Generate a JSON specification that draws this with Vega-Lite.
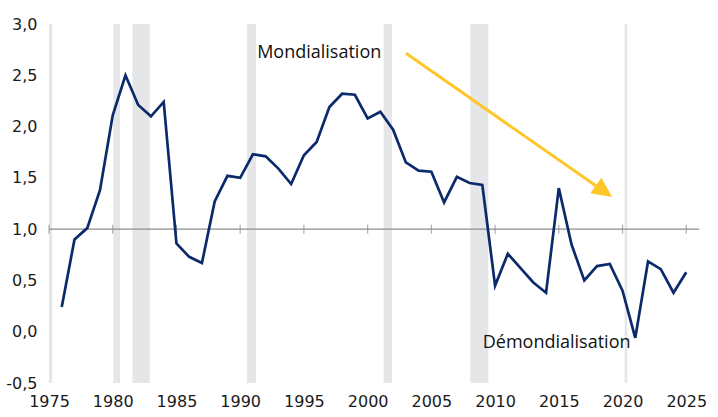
{
  "$schema": "https://vega.github.io/schema/vega-lite/v6.json",
  "width": 650,
  "height": 359,
  "autosize": "none",
  "padding": {"left": 49, "top": 24, "right": 19, "bottom": 34},
  "background": "white",
  "config": {"view": {"stroke": null}, "font": "DejaVu Sans"},
  "datasets": {
    "bands": [
      {"start": 1975.0, "end": 1975.25},
      {"start": 1980.05, "end": 1980.57},
      {"start": 1981.55, "end": 1982.9},
      {"start": 1990.54, "end": 1991.24},
      {"start": 2001.26, "end": 2001.91},
      {"start": 2008.06, "end": 2009.47},
      {"start": 2020.17, "end": 2020.37}
    ],
    "ticks": [
      {"year": 1975, "value": 1}, {"year": 1980, "value": 1}, {"year": 1985, "value": 1},
      {"year": 1990, "value": 1}, {"year": 1995, "value": 1}, {"year": 2000, "value": 1},
      {"year": 2005, "value": 1}, {"year": 2010, "value": 1}, {"year": 2015, "value": 1},
      {"year": 2020, "value": 1}, {"year": 2025, "value": 1}
    ],
    "series": [
      {"year": 1976, "value": 0.24}, {"year": 1977, "value": 0.90}, {"year": 1978, "value": 1.01},
      {"year": 1979, "value": 1.38}, {"year": 1980, "value": 2.11}, {"year": 1981, "value": 2.50},
      {"year": 1982, "value": 2.21}, {"year": 1983, "value": 2.10}, {"year": 1984, "value": 2.24},
      {"year": 1985, "value": 0.86}, {"year": 1986, "value": 0.73}, {"year": 1987, "value": 0.67},
      {"year": 1988, "value": 1.27}, {"year": 1989, "value": 1.52}, {"year": 1990, "value": 1.50},
      {"year": 1991, "value": 1.73}, {"year": 1992, "value": 1.71}, {"year": 1993, "value": 1.59},
      {"year": 1994, "value": 1.44}, {"year": 1995, "value": 1.72}, {"year": 1996, "value": 1.85},
      {"year": 1997, "value": 2.19}, {"year": 1998, "value": 2.32}, {"year": 1999, "value": 2.31},
      {"year": 2000, "value": 2.08}, {"year": 2001, "value": 2.145}, {"year": 2002, "value": 1.97},
      {"year": 2003, "value": 1.65}, {"year": 2004, "value": 1.57}, {"year": 2005, "value": 1.56},
      {"year": 2006, "value": 1.26}, {"year": 2007, "value": 1.51}, {"year": 2008, "value": 1.45},
      {"year": 2009, "value": 1.43}, {"year": 2010, "value": 0.45}, {"year": 2011, "value": 0.76},
      {"year": 2012, "value": 0.62}, {"year": 2013, "value": 0.48}, {"year": 2014, "value": 0.38},
      {"year": 2015, "value": 1.40}, {"year": 2016, "value": 0.85}, {"year": 2017, "value": 0.50},
      {"year": 2018, "value": 0.64}, {"year": 2019, "value": 0.66}, {"year": 2020, "value": 0.40},
      {"year": 2021, "value": -0.06}, {"year": 2022, "value": 0.685}, {"year": 2023, "value": 0.61},
      {"year": 2024, "value": 0.38}, {"year": 2025, "value": 0.58}
    ],
    "arrow": [
      {"year": 2003.01, "value": 2.714},
      {"year": 2018.5, "value": 1.372}
    ],
    "head": [
      {"year": 2018.55, "value": 1.37}
    ],
    "labels": [
      {"year": 1996.2, "value": 2.717, "label": "Mondialisation"},
      {"year": 2014.83, "value": -0.113, "label": "Démondialisation"}
    ]
  },
  "layer": [
    {
      "data": {"name": "bands"},
      "mark": {"type": "rect", "color": "#e5e6e8"},
      "encoding": {
        "x": {"field": "start", "type": "quantitative",
              "scale": {"domain": [1975, 2026], "nice": false, "zero": false},
              "axis": {"title": null, "values": [1975, 1980, 1985, 1990, 1995, 2000, 2005, 2010, 2015, 2020, 2025],
                       "format": "d", "grid": false, "ticks": false, "domain": false, "labelFlush": false,
                       "labelOverlap": false,
                       "labelFontSize": 16, "labelColor": "#1a1a1a", "labelPadding": 10, "labelFont": "DejaVu Sans"}},
        "x2": {"field": "end"}
      }
    },
    {
      "data": {"values": [{"value": 1}]},
      "mark": {"type": "rule", "color": "#8c8c8c", "strokeWidth": 1.2},
      "encoding": {
        "y": {"field": "value", "type": "quantitative",
              "scale": {"domain": [-0.5, 3], "nice": false, "zero": false},
              "axis": {"title": null, "values": [-0.5, 0, 0.5, 1, 1.5, 2, 2.5, 3],
                       "labelExpr": "replace(replace(format(datum.value, '.1f'), '.', ','), '\u2212', '-')",
                       "grid": false, "ticks": false, "domain": false, "labelFlush": false,
                       "labelOverlap": false,
                       "labelFontSize": 16, "labelColor": "#1a1a1a", "labelPadding": 12, "labelFont": "DejaVu Sans"}}
      }
    },
    {
      "data": {"name": "ticks"},
      "mark": {"type": "tick", "orient": "vertical", "color": "#8c8c8c", "size": 9, "thickness": 1.2},
      "encoding": {
        "x": {"field": "year", "type": "quantitative"},
        "y": {"field": "value", "type": "quantitative"}
      }
    },
    {
      "data": {"name": "series"},
      "mark": {"type": "line", "color": "#0b2a6b", "strokeWidth": 2.7, "strokeJoin": "miter"},
      "encoding": {
        "x": {"field": "year", "type": "quantitative"},
        "y": {"field": "value", "type": "quantitative"}
      }
    },
    {
      "data": {"name": "arrow"},
      "mark": {"type": "line", "color": "#ffc629", "strokeWidth": 3},
      "encoding": {
        "x": {"field": "year", "type": "quantitative"},
        "y": {"field": "value", "type": "quantitative"}
      }
    },
    {
      "data": {"name": "head"},
      "mark": {"type": "point", "shape": "M1,0L-1,-0.95L-1,0.95Z", "filled": true, "color": "#ffc629",
               "opacity": 1, "size": 400, "angle": 35},
      "encoding": {
        "x": {"field": "year", "type": "quantitative"},
        "y": {"field": "value", "type": "quantitative"}
      }
    },
    {
      "data": {"name": "labels"},
      "mark": {"type": "text", "fontSize": 18, "font": "Open Sans", "color": "#111111", "align": "center", "baseline": "middle"},
      "encoding": {
        "x": {"field": "year", "type": "quantitative"},
        "y": {"field": "value", "type": "quantitative"},
        "text": {"field": "label"}
      }
    }
  ]
}
